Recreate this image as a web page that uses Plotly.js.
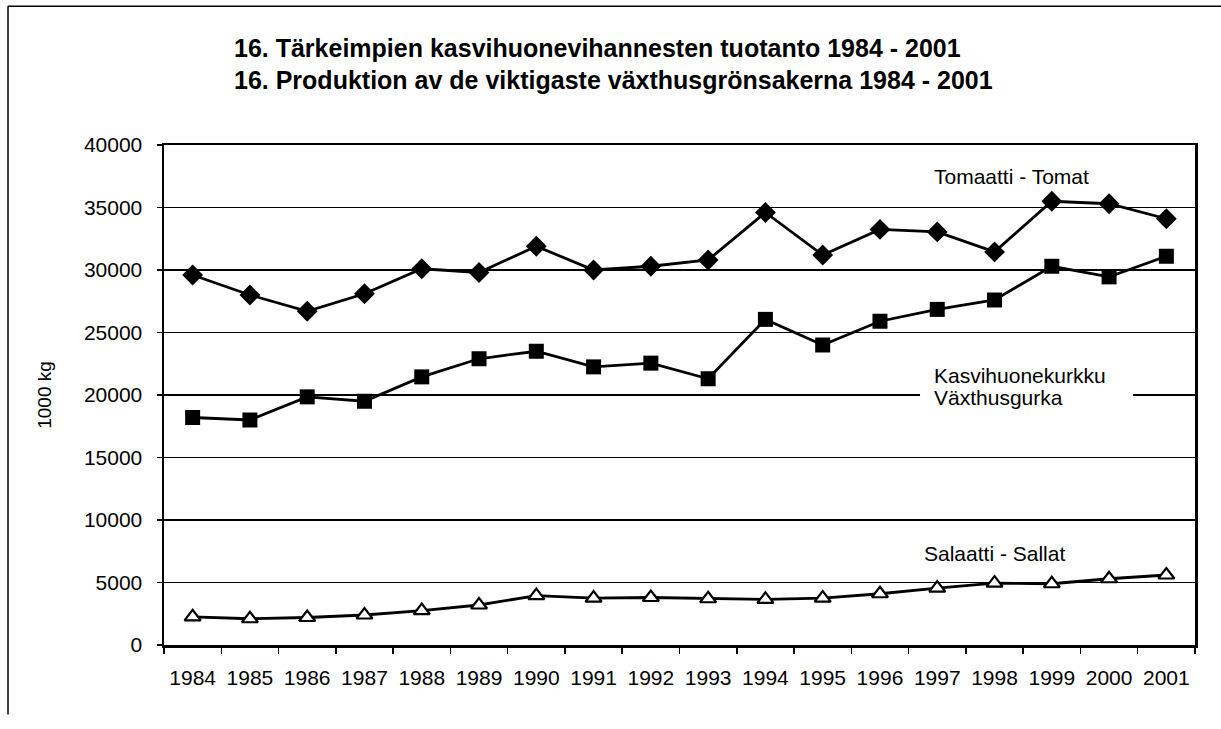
<!DOCTYPE html>
<html>
<head>
<meta charset="utf-8">
<script src="https://cdn.plot.ly/plotly-3.0.1.min.js"></script>
<style>html,body{margin:0;padding:0;background:#fff;}#chart{width:1221px;height:729px;}</style>
</head>
<body>
<div id="chart"></div>
<script>
const years = ["1984","1985","1986","1987","1988","1989","1990","1991","1992","1993","1994","1995","1996","1997","1998","1999","2000","2001"];
const tomato = [29600, 28000, 26700, 28100, 30100, 29800, 31900, 30000, 30300, 30800, 34600, 31200, 33250, 33050, 31450, 35500, 35300, 34100];
const cucumber = [18200, 18000, 19850, 19500, 21450, 22900, 23500, 22250, 22550, 21300, 26050, 24000, 25900, 26850, 27600, 30300, 29450, 31100];
const salad = [2250, 2100, 2200, 2400, 2750, 3200, 3950, 3750, 3800, 3700, 3650, 3750, 4100, 4550, 4950, 4900, 5300, 5600];
const titleLines = ["16. Tärkeimpien kasvihuonevihannesten tuotanto 1984 - 2001", "16. Produktion av de viktigaste växthusgrönsakerna 1984 - 2001"];
const seriesLabels = ["Tomaatti - Tomat", "Kasvihuonekurkku", "Växthusgurka", "Salaatti - Sallat"];
const yTitle = "1000 kg";

const FONT = "Liberation Sans, Arial, sans-serif";
const traces = [
  {x: years, y: tomato, type: "scatter", mode: "lines+markers",
   line: {color: "#000", width: 2.8}, marker: {symbol: "diamond", size: 16, color: "#000"}},
  {x: years, y: cucumber, type: "scatter", mode: "lines+markers",
   line: {color: "#000", width: 2.8}, marker: {symbol: "square", size: 15, color: "#000"}},
  {x: years, y: salad, type: "scatter", mode: "lines+markers",
   line: {color: "#000", width: 2.8}, marker: {symbol: "triangle-up", size: 14, color: "#fff", line: {color: "#000", width: 2.2}}}
];

const layout = {
  width: 1221, height: 729,
  margin: {l: 164, r: 26, t: 145, b: 83.5, pad: 0},
  paper_bgcolor: "#fff", plot_bgcolor: "#fff",
  showlegend: false,
  font: {family: FONT, color: "#000", size: 21},
  xaxis: {type: "category", range: [-0.5, 17.5], showgrid: false, zeroline: false,
    showline: true, linecolor: "#000", linewidth: 2.5, mirror: true,
    ticks: "outside", tickson: "boundaries", ticklen: 6, tickcolor: "#000", tickwidth: 1.5,
    tickfont: {family: FONT, size: 21, color: "#000"}, ticklabelstandoff: 12},
  yaxis: {range: [0, 40000], dtick: 5000, tickformat: "d", showgrid: true, gridcolor: "#000", gridwidth: 1.5,
    zeroline: false, showline: true, linecolor: "#000", linewidth: 2.5, mirror: true,
    ticks: "outside", ticklen: 5, tickcolor: "#000", tickwidth: 1.5,
    tickfont: {family: FONT, size: 21, color: "#000"}, ticklabelstandoff: 10},
  shapes: [
    {type: "rect", xref: "paper", yref: "paper", x0: 0.7333, x1: 0.9399, y0: 0.4945, y1: 0.5105,
     fillcolor: "#fff", line: {width: 0}, layer: "above"},
    {type: "line", xref: "paper", yref: "paper", x0: -0.1513, x1: 1.03, y0: 1.2777, y1: 1.2777, line: {color: "#000", width: 1.5}},
    {type: "line", xref: "paper", yref: "paper", x0: -0.1513, x1: -0.1513, y0: 1.2777, y1: -0.1389, line: {color: "#000", width: 1.5}}
  ],
  annotations: [
    {text: "<b>" + titleLines[0] + "</b>", xref: "paper", yref: "paper", x: 0.066, y: 1.1938, xanchor: "left", yanchor: "middle", showarrow: false, font: {family: FONT, size: 25}},
    {text: "<b>" + titleLines[1] + "</b>", xref: "paper", yref: "paper", x: 0.066, y: 1.1299, xanchor: "left", yanchor: "middle", showarrow: false, font: {family: FONT, size: 25}},
    {text: seriesLabels[0], xref: "paper", yref: "paper", x: 0.745, y: 0.936, xanchor: "left", yanchor: "middle", showarrow: false, font: {family: FONT, size: 21}},
    {text: seriesLabels[1], xref: "paper", yref: "paper", x: 0.745, y: 0.5385, xanchor: "left", yanchor: "middle", showarrow: false, font: {family: FONT, size: 21}},
    {text: seriesLabels[2], xref: "paper", yref: "paper", x: 0.745, y: 0.4945, xanchor: "left", yanchor: "middle", showarrow: false, font: {family: FONT, size: 21}},
    {text: seriesLabels[3], xref: "paper", yref: "paper", x: 0.735, y: 0.1828, xanchor: "left", yanchor: "middle", showarrow: false, font: {family: FONT, size: 21}},
    {text: yTitle, xref: "paper", yref: "paper", x: -0.1154, y: 0.5005, xanchor: "center", yanchor: "middle", textangle: -90, showarrow: false, font: {family: FONT, size: 19}}
  ]
};
Plotly.newPlot("chart", traces, layout, {staticPlot: true, displayModeBar: false});
</script>
</body>
</html>
